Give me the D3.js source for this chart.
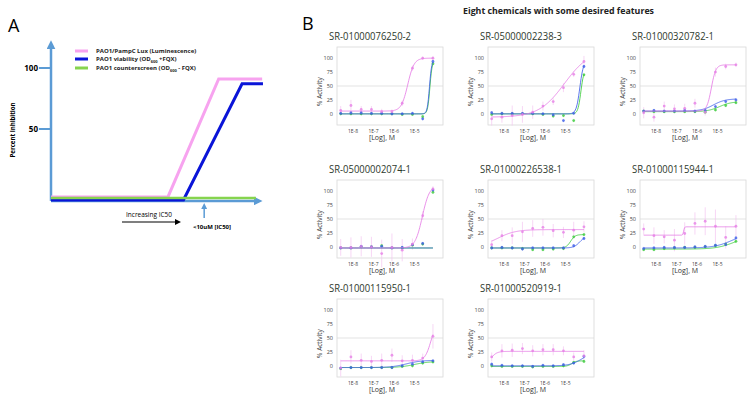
<!DOCTYPE html>
<html>
<head>
<meta charset="utf-8">
<script src="https://cdnjs.cloudflare.com/ajax/libs/d3/7.8.5/d3.min.js"></script>
<style>
body { margin: 0; background: #fff; }
svg { display: block; font-family: "Open Sans", "DejaVu Sans", sans-serif; }
</style>
</head>
<body>
<svg id="chart" width="754" height="400"></svg>
<script>
// ---- panel A (schematic) ----
var schemeLegend = ["PAO1/PampC Lux (Luminescence)", "PAO1 viability (OD", "PAO1 counterscreen (OD"];
var schemeLegendTail = ["", " +FQX)", " - FQX)"];
var schemeTicks = [50, 100];
var schemeLum = [[0, -5.7], [56.5, -5.7], [81, 91], [102, 91]];
var schemeVia = [[0, -8.2], [64, -8.2], [92.3, 87], [102.4, 87]];
var schemeCtr = [[0, -6.6], [99, -6.6]];
var schemeMarkX = 74;

// ---- panel B (eight dose-response plots) ----
var chemicals = ["SR-01000076250-2", "SR-05000002238-3", "SR-01000320782-1",
                 "SR-05000002074-1", "SR-01000226538-1", "SR-01000115944-1",
                 "SR-01000115950-1", "SR-01000520919-1"];
var logConc = [-8.6, -8.1, -7.6, -7.1, -6.6, -6.1, -5.6, -5.1, -4.6, -4.1];
var xTickVals = [-8, -7, -6, -5];
var xTickLabels = ["1E-8", "1E-7", "1E-6", "1E-5"];
var yTickVals = [0, 25, 50, 75, 100];

// luminescence (pink) points and error
var lumPoints = [
  [6, 15, 8, 8, 4, 4, 19, 82, 100, 100],
  [-9, -6, -3, -1, 3, 14, 22, 47, 71, 94],
  [2, -6, 14, 9, 10, 19, 3, 75, 85, 88],
  [-1, -1, 1, 0, -12, -1, -6, 5, 56, 104],
  [4, 20, 20, 27, 33, 35, 29, 26, 30, 36],
  [32, 20, 18, 12, 24, 42, 46, 37, 17, 37],
  [-4, 16, 10, 8, 10, 19, 9, 10, 14, 53],
  [16, 27, 28, 31, 27, 29, 29, 27, 16, 18]
];
var lumErr = [
  [8, 10, 6, 6, 5, 4, 5, 5, 3, 4],
  [12, 10, 18, 15, 12, 8, 6, 8, 5, 10],
  [10, 8, 8, 8, 8, 8, 6, 8, 5, 4],
  [15, 18, 18, 18, 25, 25, 20, 10, 8, 5],
  [8, 10, 15, 18, 15, 15, 12, 10, 15, 10],
  [10, 15, 12, 20, 20, 20, 25, 30, 20, 20],
  [15, 12, 12, 10, 12, 12, 10, 10, 8, 22],
  [8, 12, 12, 10, 10, 10, 10, 8, 8, 10]
];
// viability (blue) points
var viaPoints = [
  [1, 2, 2, 1, 1, 0, 0, 1, -9, 94],
  [2, 1, 1, 1, 1, 0, -2, -12, 1, 85],
  [5, 6, 5, 5, 6, 5, 6, 13, 22, 25],
  [-2, -2, 1, 0, 1, -2, -1, 4, 6, 102],
  [-2, -1, -2, -4, -2, -2, -2, -2, 2, 15],
  [-3, -2, -1, -1, -1, 0, 1, 3, 4, 16],
  [-4, -3, -3, -3, -3, -3, 0, 3, 7, 9],
  [3, 1, 0, 0, -1, 1, 0, 2, 5, 17]
];
// counterscreen (green) points
var ctrPoints = [
  [0, 0, 0, 0, 0, 0, -1, -1, -5, 90],
  [-1, 0, 0, 0, 0, -1, -4, -3, -12, 70],
  [5, 4, 4, 4, 4, 4, 3, 7, 15, 20],
  [-2, -2, 0, 0, 2, -2, -2, 3, 5, 98],
  [-2, -2, -2, -3, -5, -5, -4, -3, 18, 22],
  [-5, -5, -3, -2, -1, -1, 0, 2, 5, 10],
  [-5, -3, -3, -3, -3, -3, -1, 0, 5, 7],
  [0, -1, -1, -1, -2, -1, -1, 0, 6, 8]
];
// fitted Hill curves: [bottom, top, logAC50, slope]
var lumFit = [
  [5, 100, -5.33, 2.8], [-6, 115, -5.05, 0.7], [5, 88, -5.3, 4], [-2, 110, -4.62, 2.5],
  [0, 31, -8.3, 1], [21, 36, -6.65, 20], [9, 80, -4.2, 3], [0, 26, -8.65, 3]
];
var viaFit = [
  [0, 97, -4.27, 8], [0, 95, -4.3, 5], [5, 27, -5.2, 1.5], [-2, -2, -5, 1],
  [-2, 20, -4.3, 3], [-2, 25, -4.3, 1], [-3, 10, -5.4, 1.2], [0, 25, -4.2, 1.5]
];
var ctrFit = [
  [0, 95, -4.25, 8], [0, 80, -4.25, 6], [4, 22, -4.9, 1.5], [-2, -2, -5, 1],
  [-2, 22, -4.75, 4], [-4, 20, -4.2, 1], [-3, 8, -5.0, 1.2], [-1, 9, -4.7, 4]
];

var colLum = "#e67fe6", colVia = "#3f5fe8", colCtr = "#3dcc3d";
var svg = d3.select("#chart");

// ================= panel A =================
var defs = svg.append("defs");
function arrowMarker(id, color, size) {
  defs.append("marker").attr("id", id)
    .attr("viewBox", "0 0 10 10").attr("refX", 5).attr("refY", 5)
    .attr("markerWidth", size).attr("markerHeight", size)
    .attr("orient", "auto-start-reverse").attr("markerUnits", "userSpaceOnUse")
    .append("path").attr("d", "M0,0 L10,5 L0,10 Z").attr("fill", color);
}
arrowMarker("arrBlue", "#5b9bd5", 9);
arrowMarker("arrBlack", "#000", 6);
arrowMarker("arrSmall", "#5b9bd5", 6);

var ax = d3.scaleLinear().domain([0, 100]).range([51, 258]);
var ay = d3.scaleLinear().domain([0, 100]).range([190, 68]);

svg.append("text").attr("x", 8).attr("y", 32).attr("font-size", 18).text("A");

var gA = svg.append("g");
gA.append("line").attr("x1", ax(0)).attr("x2", ax(0)).attr("y1", ay(-9)).attr("y2", ay(119))
  .attr("stroke", "#5b9bd5").attr("stroke-width", 2.5).attr("marker-end", "url(#arrBlue)");
gA.append("line").attr("x1", ax(0)).attr("x2", ax(100)).attr("y1", ay(-9)).attr("y2", ay(-9))
  .attr("stroke", "#5b9bd5").attr("stroke-width", 2.5).attr("marker-end", "url(#arrBlue)");
gA.selectAll(".tk").data(schemeTicks).enter().append("line")
  .attr("x1", ax(0) - 12).attr("x2", ax(0)).attr("y1", ay).attr("y2", ay)
  .attr("stroke", "#5b9bd5").attr("stroke-width", 2);
gA.selectAll(".tl").data(schemeTicks).enter().append("text")
  .attr("x", ax(0) - 13).attr("y", function(d) { return ay(d) + 3; })
  .attr("text-anchor", "end").attr("font-size", 8).attr("font-weight", "bold").text(function(d) { return d; });
gA.append("text").attr("transform", "translate(15," + 130 + ") rotate(-90)")
  .attr("text-anchor", "middle").attr("font-size", 6.5).attr("font-weight", "bold")
  .attr("textLength", 55).attr("lengthAdjust", "spacingAndGlyphs").text("Percent Inhibition");

var aLine = d3.line().x(function(d) { return ax(d[0]); }).y(function(d) { return ay(d[1]); });
gA.append("path").attr("d", aLine(schemeLum)).attr("fill", "none").attr("stroke", "#f7a3ef").attr("stroke-width", 3);
gA.append("path").attr("d", aLine(schemeVia)).attr("fill", "none").attr("stroke", "#0a14d8").attr("stroke-width", 3);
gA.append("path").attr("d", aLine(schemeCtr)).attr("fill", "none").attr("stroke", "#86d44e").attr("stroke-width", 2.5);

var legCols = ["#f7a3ef", "#0a14d8", "#86d44e"];
var legY = [51, 59, 68];
var legLen = [92, 75, 94];
schemeLegend.forEach(function(t, i) {
  gA.append("line").attr("x1", 75).attr("x2", 88).attr("y1", legY[i]).attr("y2", legY[i])
    .attr("stroke", legCols[i]).attr("stroke-width", 3);
  var tx = gA.append("text").attr("x", 96).attr("y", legY[i] + 2.2)
    .attr("font-size", 6).attr("font-weight", "bold").attr("fill", "#222");
  tx.append("tspan").text(t);
  if (i > 0) {
    tx.append("tspan").attr("font-size", 4).attr("dy", 1.5).text("600");
    tx.append("tspan").attr("dy", -1.5).text(schemeLegendTail[i]);
  }
});

gA.append("text").attr("x", 126).attr("y", 216.5).attr("font-size", 7)
  .attr("textLength", 46).attr("lengthAdjust", "spacingAndGlyphs").text("Increasing IC50");
gA.append("line").attr("x1", 122).attr("x2", 178).attr("y1", 222).attr("y2", 222)
  .attr("stroke", "#000").attr("stroke-width", 1.2).attr("marker-end", "url(#arrBlack)");
gA.append("line").attr("x1", ax(schemeMarkX)).attr("x2", ax(schemeMarkX)).attr("y1", 218).attr("y2", 206)
  .attr("stroke", "#5b9bd5").attr("stroke-width", 1.5).attr("marker-end", "url(#arrSmall)");
gA.append("text").attr("x", 193).attr("y", 228.5).attr("font-size", 5.5).attr("font-weight", "bold")
  .attr("textLength", 38).attr("lengthAdjust", "spacingAndGlyphs").text("<10uM [IC50]");

// ================= panel B =================
svg.append("text").attr("x", 302).attr("y", 30).attr("font-size", 18).text("B");
svg.append("text").attr("x", 463).attr("y", 14).attr("font-size", 9).attr("font-weight", "bold")
  .attr("fill", "#222").attr("textLength", 191).attr("lengthAdjust", "spacingAndGlyphs")
  .text("Eight chemicals with some desired features");

var colX = [337, 488, 640], rowY = [47, 180, 299];
var pw = 106, ph = 78;

function hill(p, x) { return p[0] + (p[1] - p[0]) / (1 + Math.pow(10, (p[2] - x) * p[3])); }

chemicals.forEach(function(name, k) {
  var left = colX[k % 3], top = rowY[Math.floor(k / 3)];
  var x = d3.scaleLinear().domain([-8.78, -3.61]).range([left, left + pw]);
  var y = d3.scaleLinear().domain([-20, 120]).range([top + ph, top]);
  var g = svg.append("g");

  g.append("text").attr("x", left - 8).attr("y", top - 7).attr("font-size", 11)
    .attr("fill", "#2e3a2e").attr("textLength", 82).attr("lengthAdjust", "spacingAndGlyphs").text(name);

  g.append("rect").attr("x", left).attr("y", top).attr("width", pw).attr("height", ph)
    .attr("fill", "none").attr("stroke", "#d8d8d8").attr("stroke-width", 0.8);
  g.append("line").attr("x1", left).attr("x2", left + pw).attr("y1", y(50)).attr("y2", y(50))
    .attr("stroke", "#dcdcdc").attr("stroke-width", 0.8);

  g.selectAll(".yt").data(yTickVals).enter().append("text")
    .attr("x", left - 4).attr("y", function(d) { return y(d) + 2; })
    .attr("text-anchor", "end").attr("font-size", 5.5).attr("fill", "#444").text(function(d) { return d; });
  g.selectAll(".xt").data(xTickVals).enter().append("text")
    .attr("x", x).attr("y", top + ph + 8).attr("text-anchor", "middle")
    .attr("font-size", 5).attr("fill", "#444").text(function(d, i) { return xTickLabels[i]; });
  g.append("text").attr("x", left + pw / 2 - 8).attr("y", top + ph + 14.5).attr("text-anchor", "middle")
    .attr("font-size", 7).attr("fill", "#333").text("[Log], M");
  g.append("text").attr("transform", "translate(" + (left - 15) + "," + y(40) + ") rotate(-90)")
    .attr("text-anchor", "middle").attr("font-size", 6.5).attr("fill", "#333").text("% Activity");

  var xs = d3.range(0, 161).map(function(i) { return -8.6 + i * 4.5 / 160; });
  var series = [
    { pts: ctrPoints[k], fit: ctrFit[k], col: colCtr, err: null },
    { pts: viaPoints[k], fit: viaFit[k], col: colVia, err: null },
    { pts: lumPoints[k], fit: lumFit[k], col: colLum, err: lumErr[k] }
  ];
  series.forEach(function(s) {
    if (s.err) {
      g.selectAll(null).data(s.pts).enter().append("line")
        .attr("x1", function(d, i) { return x(logConc[i]); }).attr("x2", function(d, i) { return x(logConc[i]); })
        .attr("y1", function(d, i) { return y(d - s.err[i]); }).attr("y2", function(d, i) { return y(d + s.err[i]); })
        .attr("stroke", "#f3c6f0").attr("stroke-width", 0.7);
    } else {
      g.selectAll(null).data(s.pts).enter().append("line")
        .attr("x1", function(d, i) { return x(logConc[i]); }).attr("x2", function(d, i) { return x(logConc[i]); })
        .attr("y1", function(d) { return y(d - 3); }).attr("y2", function(d) { return y(d + 3); })
        .attr("stroke", s.col).attr("stroke-opacity", 0.45).attr("stroke-width", 0.7);
    }
  });
  series.forEach(function(s) {
    g.append("path").datum(xs)
      .attr("d", d3.line().x(function(v) { return x(v); }).y(function(v) { return y(hill(s.fit, v)); }))
      .attr("fill", "none").attr("stroke", s.col).attr("stroke-width", 1).attr("stroke-opacity", 0.85);
    g.selectAll(null).data(s.pts).enter().append("circle")
      .attr("cx", function(d, i) { return x(logConc[i]); }).attr("cy", y)
      .attr("r", 1.4).attr("fill", s.col).attr("fill-opacity", 0.8);
  });
});
</script>
</body>
</html>
